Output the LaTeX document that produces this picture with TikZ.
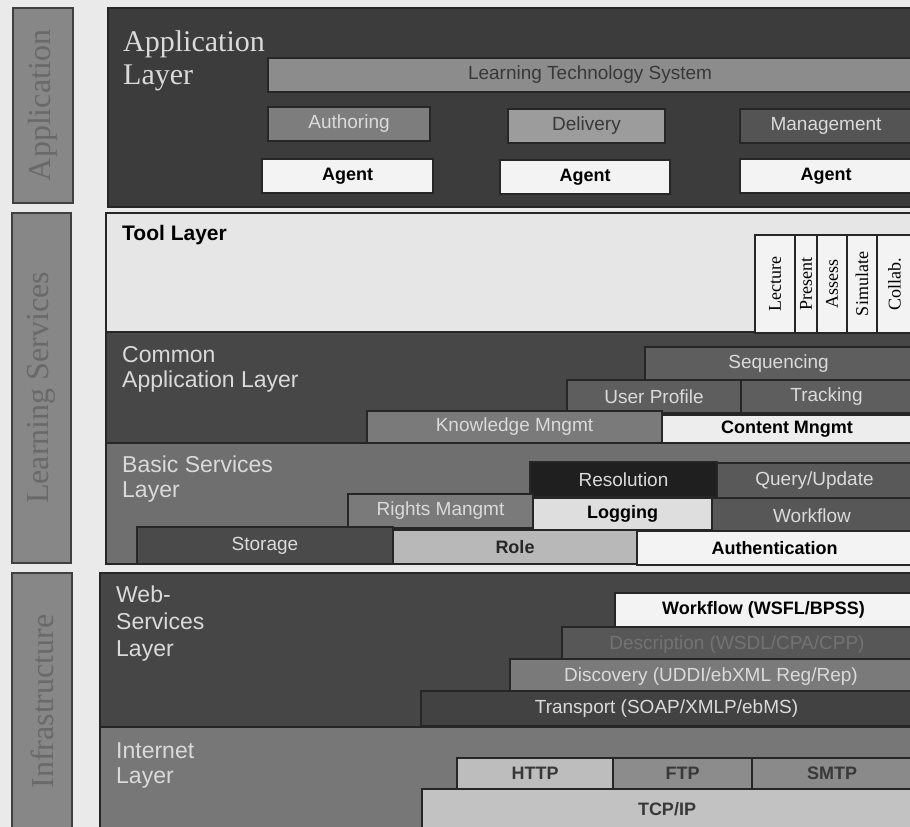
\documentclass[tikz,border=0pt]{standalone}
\usepackage{fontspec}
\setmainfont{Liberation Serif}
\setsansfont{Liberation Sans}
\usepackage{xcolor}
\usepackage{graphicx}
\usetikzlibrary{positioning}

\definecolor{pagebg}{HTML}{EAEAEA}
\definecolor{edge}{HTML}{262626}
\definecolor{sidefill}{HTML}{878787}
\definecolor{sideedge}{HTML}{404040}
\definecolor{sidetxt}{HTML}{696969}
\definecolor{titletxt}{HTML}{DADADA}
\definecolor{appfill}{HTML}{3C3C3C}
\definecolor{toolfill}{HTML}{E6E6E6}
\definecolor{commfill}{HTML}{474747}
\definecolor{basicfill}{HTML}{6F6F6F}
\definecolor{webfill}{HTML}{464646}
\definecolor{netfill}{HTML}{777777}
\definecolor{lightbox}{HTML}{F3F3F3}
\definecolor{darktxt}{HTML}{383838}

\tikzset{
  panel/.style={draw=edge, line width=2pt, inner sep=0pt, outer sep=0pt, anchor=north west},
  blk/.style={draw=edge, line width=1.6pt, inner sep=0pt, outer sep=0pt, anchor=north west,
    text=titletxt, font=\sffamily\fontsize{19}{22}\selectfont},
  blkb/.style={blk, text=black, font=\sffamily\bfseries\fontsize{18}{21}\selectfont},
  sidebar/.style={draw=sideedge, fill=sidefill, line width=1.5pt, inner sep=0pt, outer sep=0pt,
    anchor=north west, text=sidetxt, font=\rmfamily\fontsize{32}{34}\selectfont},
  laytitle/.style={anchor=north west, inner sep=0pt, align=left, text=titletxt,
    font=\sffamily\fontsize{23}{25}\selectfont},
  toolbox/.style={blk, fill=lightbox, text=black, font=\rmfamily\fontsize{18}{20}\selectfont}
}

\begin{document}
\begin{tikzpicture}[x=1pt, y=-1pt]
  \fill[pagebg] (0,0) rectangle (910,827);
  \useasboundingbox (0,0) rectangle (910,827);
  \clip (0,0) rectangle (910,827);

  % side bars
  \node[sidebar, minimum width=60pt, minimum height=195pt] (sbapp) at (13,8) {\rotatebox{90}{Application}};
  \node[sidebar, minimum width=59pt, minimum height=350pt] (sblearn) at (12,213) {\rotatebox{90}{Learning Services}};
  \node[sidebar, minimum width=60pt, minimum height=257pt] (sbinfra) at (12,573) {\rotatebox{90}{Infrastructure}};

  % layer panels
  \node[panel, fill=appfill, minimum width=804pt, minimum height=199pt] (appl) at (108,8) {};
  \node[panel, fill=toolfill, minimum width=806pt, minimum height=119pt] (tooll) at (106,213) {};
  \node[panel, fill=commfill, minimum width=806pt, minimum height=111pt, below=0pt of tooll] (comml) {};
  \node[panel, fill=basicfill, minimum width=806pt, minimum height=121pt, below=0pt of comml] (basicl) {};
  \node[panel, fill=webfill, minimum width=812pt, minimum height=154pt] (webl) at (100,573) {};
  \node[panel, fill=netfill, minimum width=812pt, minimum height=103pt, below=0pt of webl] (netl) {};

  % layer titles
  \node[laytitle, font=\rmfamily\fontsize{30}{33}\selectfont] (appt) at (123,30) {Application\\Layer};
  \node[laytitle, text=black, font=\sffamily\bfseries\fontsize{21}{24}\selectfont] (toolt) at (122,225) {Tool Layer};
  \node[laytitle] (commt) at (122,346) {Common\\Application Layer};
  \node[laytitle] (basict) at (122,456) {Basic Services\\Layer};
  \node[laytitle, font=\sffamily\fontsize{23}{27}\selectfont] (webt) at (116,586) {Web-\\Services\\Layer};
  \node[laytitle] (nett) at (116,742) {Internet\\Layer};

  % application layer
  \node[blk, fill=black!45, text=darktxt, minimum width=644pt, minimum height=34pt] (lts) at (268,58) {Learning Technology System};
  \node[blk, fill=black!51, minimum width=162pt, minimum height=34pt] (authoring) at (268,107) {Authoring};
  \node[blk, fill=black!39, text=darktxt, minimum width=157pt, minimum height=34pt] (delivery) at (508,109) {Delivery};
  \node[blk, fill=black!67, minimum width=172pt, minimum height=34pt] (mgmt) at (740,109) {Management};
  \node[blkb, fill=lightbox, minimum width=171pt, minimum height=34pt] (agenta) at (262,159) {Agent};
  \node[blkb, fill=lightbox, minimum width=170pt, minimum height=34pt] (agentb) at (500,160) {Agent};
  \node[blkb, fill=lightbox, minimum width=172pt, minimum height=34pt] (agentc) at (740,159) {Agent};

  % tool layer
  \node[toolbox, minimum width=40pt, minimum height=98pt] (lecture) at (755,235) {\rotatebox{90}{Lecture}};
  \node[toolbox, minimum width=22pt, minimum height=98pt, right=0pt of lecture] (present) {\rotatebox{90}{Present}};
  \node[toolbox, minimum width=30pt, minimum height=98pt, right=0pt of present] (assess) {\rotatebox{90}{Assess}};
  \node[toolbox, minimum width=30pt, minimum height=98pt, right=0pt of assess] (simulate) {\rotatebox{90}{Simulate}};
  \node[toolbox, minimum width=35pt, minimum height=98pt, right=0pt of simulate] (collab) {\rotatebox{90}{Collab.}};

  % common application layer
  \node[blk, fill=black!63, minimum width=267pt, minimum height=33pt] (seq) at (645,347) {Sequencing};
  \node[blk, fill=black!63, minimum width=174pt, minimum height=33pt] (userprof) at (567,380) {User Profile};
  \node[blk, fill=black!63, minimum width=171pt, minimum height=33pt, right=0pt of userprof] (tracking) {Tracking};
  \node[blk, fill=black!52, minimum width=295pt, minimum height=32pt] (knowledge) at (367,411) {Knowledge Mngmt};
  \node[blkb, fill=black!7, minimum width=250pt, minimum height=28pt] (content) at (662,415) {Content Mngmt};

  % basic services layer
  \node[blk, fill=black!88, minimum width=187pt, minimum height=35pt] (resolution) at (530,462) {Resolution};
  \node[blk, fill=black!65, minimum width=195pt, minimum height=35pt] (query) at (717,463) {Query/Update};
  \node[blk, fill=black!52, minimum width=185pt, minimum height=34pt] (rights) at (348,494) {Rights Mangmt};
  \node[blkb, fill=black!13, minimum width=179pt, minimum height=32pt] (logging) at (533,498) {Logging};
  \node[blk, fill=black!66, minimum width=200pt, minimum height=35pt] (workflow) at (712,498) {Workflow};
  \node[blk, fill=black!71, minimum width=256pt, minimum height=37pt] (storage) at (137,527) {Storage};
  \node[blkb, fill=black!28, text=black!85, minimum width=244pt, minimum height=34pt] (role) at (393,530) {Role};
  \node[blkb, fill=lightbox, minimum width=275pt, minimum height=34pt] (authent) at (637,531) {Authentication};

  % web-services layer
  \node[blkb, fill=lightbox, minimum width=297pt, minimum height=34pt] (wsfl) at (615,593) {Workflow (WSFL/BPSS)};
  \node[blk, fill=black!66, text=black!55, minimum width=350pt, minimum height=35pt] (descr) at (562,627) {Description (WSDL/CPA/CPP)};
  \node[blk, fill=black!52, minimum width=402pt, minimum height=36pt] (discovery) at (510,659) {Discovery (UDDI/ebXML Reg/Rep)};
  \node[blk, fill=black!74, minimum width=491pt, minimum height=35pt] (transport) at (421,691) {Transport (SOAP/XMLP/ebMS)};

  % internet layer
  \node[blkb, fill=black!26, text=darktxt, minimum width=156pt, minimum height=31pt] (http) at (457,758) {HTTP};
  \node[blkb, fill=black!45, text=darktxt, minimum width=139pt, minimum height=31pt, right=0pt of http] (ftp) {FTP};
  \node[blkb, fill=black!46, text=darktxt, minimum width=160pt, minimum height=31pt, right=0pt of ftp] (smtp) {SMTP};
  \node[blkb, fill=black!24, text=darktxt, minimum width=490pt, minimum height=40pt] (tcpip) at (422,789) {TCP/IP};
\end{tikzpicture}
\end{document}
